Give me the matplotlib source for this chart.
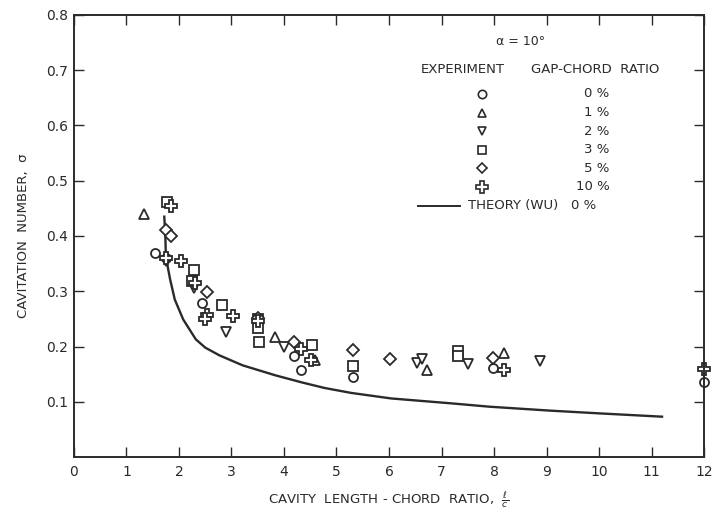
import matplotlib.pyplot as plt
import numpy as np

# experiment points, one list per gap-chord ratio
gap0_x = [1.55, 1.75, 2.43, 4.2, 4.32, 5.32, 7.98, 12.0]
gap0_y = [0.37, 0.36, 0.278, 0.182, 0.158, 0.145, 0.162, 0.136]
gap1_x = [1.33, 3.82, 4.6, 6.72, 8.19]
gap1_y = [0.44, 0.218, 0.175, 0.158, 0.189]
gap2_x = [1.75, 2.28, 2.9, 4.0, 6.53, 6.62, 7.5, 8.87]
gap2_y = [0.355, 0.305, 0.227, 0.2, 0.171, 0.178, 0.169, 0.173]
gap3_x = [1.78, 2.28, 2.24, 2.81, 3.5, 3.5, 3.52, 4.53, 5.32, 7.32, 7.32]
gap3_y = [0.462, 0.338, 0.318, 0.276, 0.25, 0.233, 0.209, 0.202, 0.164, 0.191, 0.182]
gap5_x = [1.75, 1.85, 2.53, 3.5, 4.2, 5.32, 6.02, 7.98]
gap5_y = [0.41, 0.40, 0.298, 0.252, 0.209, 0.193, 0.178, 0.18]
gap10_x = [1.85, 1.75, 2.04, 2.3, 2.53, 2.5, 3.02, 3.5, 4.32, 4.51, 8.19, 12.0]
gap10_y = [0.455, 0.36, 0.355, 0.315, 0.257, 0.25, 0.255, 0.247, 0.196, 0.176, 0.157, 0.16]

# theory (Wu)
theory_x = [1.72, 1.74, 1.75, 1.79, 1.83, 1.92, 2.08, 2.32, 2.5, 2.77, 3.21, 3.83,
            4.34, 4.77, 5.28, 6.04, 7.2, 7.92, 9.06, 10.0, 11.2]
theory_y = [0.435, 0.40, 0.364, 0.342, 0.322, 0.285, 0.249, 0.213, 0.198, 0.184,
            0.166, 0.148, 0.135, 0.125, 0.116, 0.106, 0.097, 0.091, 0.084, 0.079, 0.073]

series = [
    (gap0_x, gap0_y, 'o', 6.5, '0 %'),
    (gap1_x, gap1_y, '^', 6.5, '1 %'),
    (gap2_x, gap2_y, 'v', 6.5, '2 %'),
    (gap3_x, gap3_y, 's', 6.5, '3 %'),
    (gap5_x, gap5_y, 'D', 6, '5 %'),
    (gap10_x, gap10_y, 'P', 8.5, '10 %'),
]

ink = '#2a2a2a'
plt.rcParams['font.family'] = 'DejaVu Sans'

fig = plt.figure(figsize=(7.12, 5.15), dpi=100)
ax = fig.add_axes([0.1039, 0.1126, 0.8849, 0.8583])

ax.plot(theory_x, theory_y, color=ink, lw=1.7)
for xs, ys, m, ms, lab in series:
    ax.plot(xs, ys, ls='none', marker=m, ms=ms, mfc='white', mec=ink, mew=1.3,
            clip_on=False)

ax.set_xlim(0, 12)
ax.set_ylim(0, 0.8)
ax.set_xticks(range(13))
ax.set_xticklabels([str(i) for i in range(13)])
ax.set_yticks([0.1, 0.2, 0.3, 0.4, 0.5, 0.6, 0.7, 0.8])
ax.set_yticklabels(['0.1', '0.2', '0.3', '0.4', '0.5', '0.6', '0.7', '0.8'])
ax.tick_params(direction='in', length=7, width=1, top=True, right=True,
               colors=ink, labelsize=10)
ax.tick_params(axis='x', pad=6)
ax.tick_params(axis='y', pad=4)
for s in ax.spines.values():
    s.set_color(ink)
    s.set_linewidth(1.4)

ax.set_xlabel(r'CAVITY  LENGTH - CHORD  RATIO,  $\frac{\ell}{c}$', fontsize=9.5,
              color=ink, labelpad=8)
ax.set_ylabel('CAVITATION  NUMBER,  σ', fontsize=9.5, color=ink, labelpad=12)

# legend drawn as a table in axes data coords
ax.text(8.5, 0.752, 'α = 10°', fontsize=9, color=ink, ha='center', va='center')
ax.text(6.6, 0.702, 'EXPERIMENT', fontsize=9.5, color=ink, ha='left', va='center')
ax.text(8.7, 0.702, 'GAP-CHORD  RATIO', fontsize=9.5, color=ink, ha='left', va='center')
for i, (xs, ys, m, ms, lab) in enumerate(series):
    yy = 0.657 - i * 0.0335
    ax.plot([7.77], [yy], ls='none', marker=m, ms=ms - 0.5, mfc='white', mec=ink, mew=1.2)
    ax.text(10.2, yy, lab, fontsize=9.5, color=ink, ha='right', va='center')
yy = 0.455
ax.plot([6.55, 7.35], [yy, yy], color=ink, lw=1.4)
ax.text(7.5, yy, 'THEORY (WU)   0 %', fontsize=9.5, color=ink, ha='left', va='center')

fig.savefig('out.png', dpi=100)
